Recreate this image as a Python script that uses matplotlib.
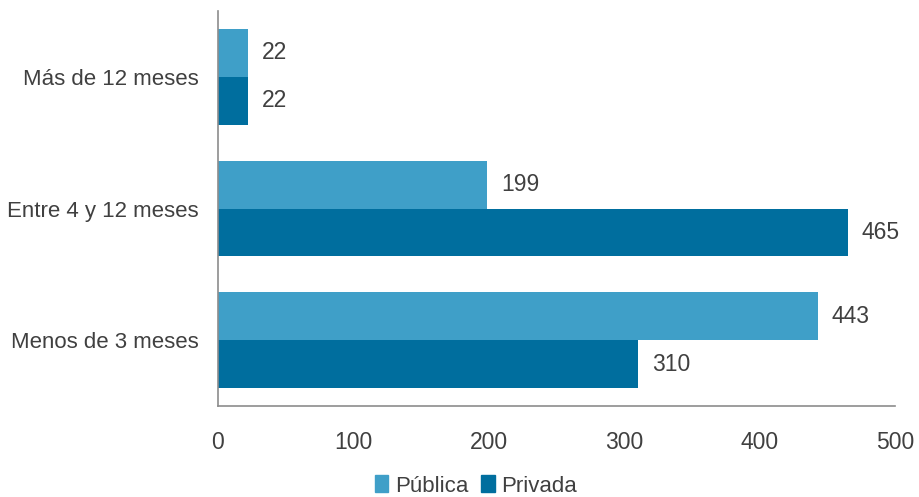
import numpy as np
import matplotlib.pyplot as plt
from matplotlib.patches import Patch
from matplotlib import font_manager

# datos
categorias = ['Menos de 3 meses', 'Entre 4 y 12 meses', 'Más de 12 meses']
publica = [443, 199, 22]
privada = [310, 465, 22]
series = ['Pública', 'Privada']
colores = ['#3F9FC8', '#006E9E']
ticks_x = [0, 100, 200, 300, 400, 500]

gris = '#404040'
fuente = ['Liberation Sans', 'DejaVu Sans']
nombres = {f.name for f in font_manager.fontManager.ttflist}
fuente_estrecha = [n for n in ['Liberation Sans Narrow', 'DejaVu Sans Condensed'] if n in nombres] + fuente

fig = plt.figure(figsize=(9.2, 4.97), dpi=100)
ax = fig.add_axes([218/920, 1 - 406/497, (895 - 218)/920, (406 - 11)/497])

y = np.arange(len(categorias))
h = 0.364
b1 = ax.barh(y + h/2, publica, height=h, color=colores[0])
b2 = ax.barh(y - h/2, privada, height=h, color=colores[1])

# etiquetas de valores
for barras in (b1, b2):
    for r in barras:
        w = r.get_width()
        ax.annotate(f'{w:.0f}', (w, r.get_y() + r.get_height()/2), xytext=(10, 0),
                    textcoords='offset points', va='center', ha='left',
                    fontsize=16.5, color=gris, family=fuente)

ax.set_xlim(0, 500)
ax.set_ylim(-0.5, 2.5)
ax.set_xticks(ticks_x)
ax.set_xticklabels([str(t) for t in ticks_x], family=fuente_estrecha, fontsize=16.5, color=gris)
ax.set_yticks(y)
ax.set_yticklabels(categorias, family=fuente, fontsize=16, color=gris)
ax.tick_params(axis='both', length=0)
ax.tick_params(axis='x', pad=18)
ax.tick_params(axis='y', pad=14)

for s in ['top', 'right']:
    ax.spines[s].set_visible(False)
for s in ['left', 'bottom']:
    ax.spines[s].set_color('#8C8C8C')
    ax.spines[s].set_linewidth(1.2)

handles = [Patch(color=c, label=l) for c, l in zip(colores, series)]
fig.legend(handles=handles, loc='center', bbox_to_anchor=(476/920, 1 - 486/497), ncol=2,
           frameon=False, prop={'family': fuente_estrecha, 'size': 16}, handlelength=0.6,
           handleheight=0.8, handletextpad=0.3, columnspacing=0.6, labelcolor=gris)

fig.savefig('out.png', dpi=100)
